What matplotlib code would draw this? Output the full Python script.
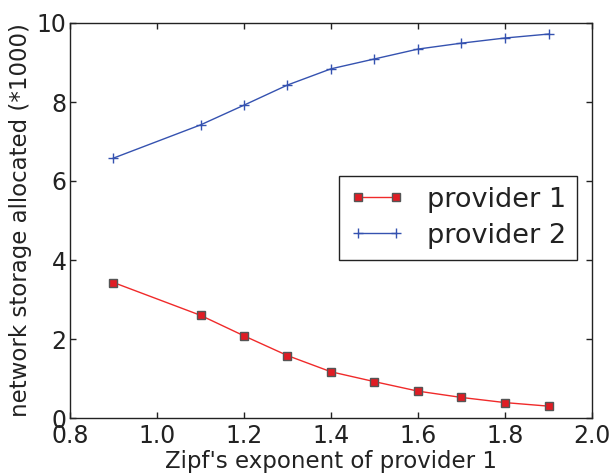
import matplotlib
matplotlib.use("Agg")
import matplotlib.pyplot as plt

x = [0.9, 1.1, 1.2, 1.3, 1.4, 1.5, 1.6, 1.7, 1.8, 1.9]
provider1 = [3.43, 2.60, 2.08, 1.58, 1.17, 0.92, 0.68, 0.52, 0.39, 0.30]
provider2 = [6.58, 7.42, 7.92, 8.43, 8.84, 9.09, 9.34, 9.49, 9.62, 9.72]
xticks = [0.8, 1.0, 1.2, 1.4, 1.6, 1.8, 2.0]
yticks = [0, 2, 4, 6, 8, 10]

plt.rcParams['font.family'] = ['DejaVu Sans']
W, H = 612, 473
fig = plt.figure(figsize=(W/100, H/100), dpi=100)
ax = fig.add_axes([70/W, 1-418/H, 522/W, 395/H])

ax.plot(x, provider1, color='#f02a2a', lw=1.0, marker='s', markersize=5.8,
        markerfacecolor='#e01c24', markeredgecolor='#555555', markeredgewidth=1.0,
        label='provider 1')
ax.plot(x, provider2, color='#3552b0', lw=1.0, marker='+', markersize=6.5,
        markeredgewidth=1.0, label='provider 2')

ax.set_xlim(0.8, 2.0)
ax.set_ylim(0, 10)
ax.set_xticks(xticks)
ax.set_yticks(yticks)
ax.set_xticklabels([f"{t:.1f}" for t in xticks])
ax.set_yticklabels([str(t) for t in yticks])
ax.tick_params(direction='in', top=True, right=True, length=4.5, width=1,
               labelsize=17, labelcolor='#222222', color='#222222')
ax.tick_params(axis='x', pad=4.5)
ax.tick_params(axis='y', pad=2.5)
for s in ax.spines.values():
    s.set_linewidth(1.0)
    s.set_color('#222222')

ax.set_xlabel("Zipf's exponent of provider 1", fontsize=16.5, color='#222222', labelpad=1)
ax.set_ylabel("network storage allocated (*1000)", fontsize=16.5, color='#222222', labelpad=3)

leg = ax.legend(loc='upper right', bbox_to_anchor=(0.971, 0.613), borderaxespad=0,
                fontsize=19.5, fancybox=False, framealpha=1, edgecolor='#222222',
                numpoints=2, handlelength=2.0, handletextpad=0.85, borderpad=0.4,
                labelspacing=0.37)
leg.get_frame().set_linewidth(1.0)
for t in leg.get_texts():
    t.set_color('#222222')

fig.savefig("out.png", dpi=100)
